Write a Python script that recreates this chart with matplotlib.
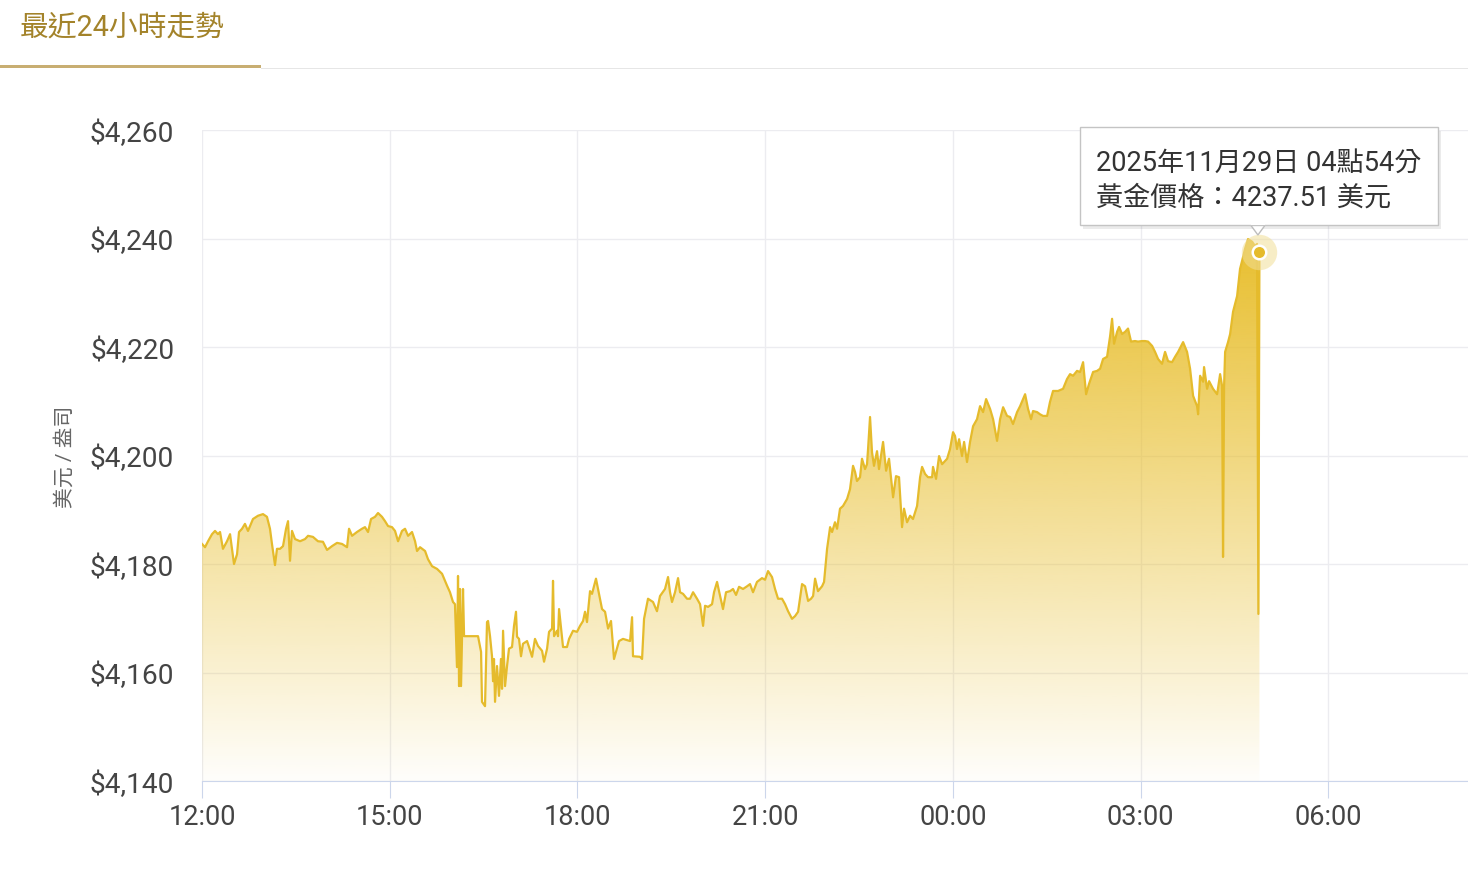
import numpy as np
import matplotlib.pyplot as plt
from matplotlib.colors import to_rgb
from matplotlib.patches import Rectangle, Polygon

plt.rcParams['font.family'] = ['Roboto', 'Noto Sans CJK TC', 'DejaVu Sans']

# minutes after 12:00 (28 Nov) and gold price in USD
minutes = [
    0.0, 2.9, 5.8, 9.6, 12.5, 15.3, 17.3, 20.1, 24.0, 26.9, 30.7, 33.6, 35.5, 38.4,
    41.2, 44.1, 48.9, 53.7, 58.5, 62.3, 65.2, 67.1, 70.0, 71.9, 74.8, 77.7, 80.6,
    82.5, 84.4, 86.3, 89.2, 94.0, 98.8, 101.7, 106.4, 111.2, 116.0, 119.9, 124.7,
    129.5, 134.3, 139.1, 141.0, 143.9, 148.6, 153.4, 156.3, 159.2, 162.1, 165.9,
    168.8, 172.6, 175.5, 178.4, 182.2, 185.1, 188.0, 191.8, 194.7, 197.6, 201.4,
    204.3, 206.2, 209.1, 213.9, 216.7, 220.6, 225.4, 230.2, 235.0, 237.8, 240.7,
    242.6, 244.5, 245.5, 246.5, 247.4, 248.4, 250.3, 251.3, 264.7, 267.6, 268.5,
    271.4, 273.3, 274.3, 276.2, 278.1, 279.1, 280.0, 281.0, 282.9, 284.8, 286.7,
    287.7, 288.7, 290.6, 292.5, 294.4, 297.3, 299.2, 301.1, 302.1, 304.0, 305.9,
    307.8, 311.7, 313.6, 316.5, 319.3, 322.2, 326.1, 328.0, 330.9, 332.8, 335.7,
    336.6, 337.6, 340.4, 341.4, 342.4, 345.2, 346.2, 350.0, 352.0, 355.8, 359.6,
    362.5, 365.4, 367.3, 369.2, 372.1, 374.0, 377.8, 379.8, 383.6, 386.5, 389.4,
    392.2, 395.1, 399.9, 403.7, 410.5, 412.4, 413.3, 420.0, 422.0, 423.9, 427.7,
    432.5, 436.3, 439.2, 444.0, 446.9, 448.8, 450.7, 453.6, 456.5, 458.4, 461.3,
    465.1, 468.0, 470.9, 474.7, 477.6, 480.5, 482.4, 485.3, 489.1, 491.0, 493.9,
    495.8, 499.6, 502.5, 506.4, 509.2, 512.1, 515.0, 518.8, 522.7, 525.5, 528.4,
    532.2, 537.0, 539.9, 542.8, 546.6, 549.5, 552.4, 556.2, 559.1, 562.0, 565.8,
    568.7, 571.6, 575.4, 578.3, 581.2, 584.0, 586.0, 587.9, 590.7, 594.6, 596.5,
    599.4, 602.3, 604.2, 607.0, 609.0, 611.8, 614.7, 618.6, 621.4, 624.3, 626.2,
    628.1, 631.0, 632.9, 635.8, 637.7, 638.7, 640.6, 642.5, 644.4, 647.3, 649.2,
    653.1, 656.0, 658.8, 662.7, 665.5, 668.4, 671.3, 673.2, 676.1, 679.0, 681.8,
    685.7, 688.6, 690.5, 693.4, 696.2, 700.1, 701.0, 703.9, 706.8, 709.7, 714.5,
    717.3, 720.2, 722.1, 724.0, 726.0, 728.8, 730.8, 733.6, 736.5, 739.4, 743.2,
    746.1, 749.0, 751.9, 755.7, 758.6, 762.4, 765.3, 768.2, 772.0, 774.9, 777.7,
    781.6, 784.5, 789.3, 792.1, 795.0, 796.9, 800.8, 803.6, 806.5, 810.4, 813.2,
    816.1, 820.9, 825.7, 829.5, 832.4, 835.3, 839.1, 842.0, 844.9, 847.8, 850.6,
    854.5, 858.3, 861.2, 864.1, 867.9, 870.8, 872.7, 874.6, 877.5, 879.4, 882.3,
    885.2, 888.0, 890.9, 894.7, 897.6, 901.5, 904.3, 907.2, 911.1, 913.9, 916.8,
    920.6, 923.5, 926.4, 930.2, 933.1, 936.0, 940.8, 944.6, 947.5, 950.4, 954.2,
    955.2, 957.1, 960.0, 960.9, 963.8, 965.7, 969.5, 973.4, 976.3, 978.2, 979.1,
    980.1, 981.1, 983.9, 985.9, 988.7, 992.6, 995.4, 997.4, 1000.2, 1003.1, 1007.0,
    1009.8, 1011.7, 1013.0, 1014.0,
]
prices = [
    4183.7, 4183.1, 4184.2, 4185.5, 4186.1, 4185.5, 4185.9, 4182.8, 4184.2, 4185.5,
    4180.0, 4181.8, 4185.9, 4186.5, 4187.4, 4186.1, 4188.3, 4188.9, 4189.2, 4188.7,
    4186.5, 4183.7, 4179.8, 4182.8, 4182.8, 4183.3, 4186.5, 4187.9, 4180.6, 4186.1,
    4184.6, 4184.2, 4184.6, 4185.2, 4185.0, 4184.2, 4184.1, 4182.6, 4183.3, 4183.9,
    4183.7, 4183.1, 4186.5, 4185.2, 4185.9, 4186.5, 4186.8, 4185.9, 4188.3, 4188.7,
    4189.4, 4188.7, 4187.9, 4187.0, 4186.8, 4186.1, 4184.2, 4186.1, 4186.5, 4185.2,
    4185.9, 4184.2, 4182.4, 4183.1, 4182.4, 4180.9, 4179.6, 4179.1, 4178.2, 4176.0,
    4174.8, 4173.0, 4172.6, 4161.0, 4177.8, 4157.5, 4175.4, 4157.5, 4175.4, 4166.7,
    4166.7, 4163.8, 4154.6, 4153.8, 4169.3, 4169.5, 4166.7, 4163.0, 4158.4, 4162.5,
    4154.6, 4161.2, 4155.7, 4162.5, 4157.0, 4167.7, 4157.5, 4161.2, 4164.4, 4164.7,
    4168.6, 4171.2, 4166.6, 4166.2, 4163.0, 4165.3, 4165.8, 4164.7, 4162.9, 4166.2,
    4164.9, 4164.0, 4162.0, 4164.4, 4167.5, 4168.1, 4176.9, 4166.7, 4167.7, 4166.7,
    4171.7, 4166.6, 4164.7, 4164.7, 4166.2, 4167.7, 4167.5, 4168.6, 4169.5, 4171.2,
    4169.3, 4175.0, 4174.5, 4177.3, 4175.4, 4171.7, 4171.2, 4168.1, 4169.5, 4162.5,
    4165.8, 4166.2, 4165.8, 4170.2, 4163.0, 4162.9, 4162.5, 4169.9, 4173.6, 4173.0,
    4171.3, 4174.1, 4175.4, 4177.6, 4174.8, 4173.0, 4174.8, 4177.4, 4174.8, 4174.5,
    4173.6, 4173.6, 4174.8, 4173.6, 4172.6, 4168.6, 4172.3, 4172.1, 4172.6, 4174.8,
    4176.7, 4175.0, 4171.7, 4174.8, 4175.0, 4175.4, 4174.3, 4175.8, 4175.4, 4175.9,
    4176.3, 4174.8, 4176.7, 4177.4, 4177.1, 4178.7, 4177.6, 4175.4, 4173.6, 4173.6,
    4172.6, 4171.3, 4169.9, 4170.4, 4171.2, 4176.3, 4175.9, 4173.2, 4173.6, 4174.1,
    4177.3, 4175.0, 4175.9, 4176.7, 4182.8, 4186.8, 4185.9, 4187.7, 4186.5, 4190.2,
    4190.7, 4192.0, 4193.8, 4198.1, 4197.0, 4195.3, 4196.0, 4199.4, 4197.5, 4198.4,
    4201.2, 4207.1, 4200.6, 4198.1, 4200.8, 4197.5, 4202.5, 4197.2, 4199.4, 4192.3,
    4196.2, 4196.0, 4186.8, 4190.2, 4187.7, 4188.9, 4188.3, 4190.7, 4196.0, 4197.9,
    4196.6, 4196.0, 4196.0, 4197.9, 4195.7, 4199.9, 4198.4, 4199.4, 4201.2, 4204.3,
    4203.6, 4201.2, 4203.0, 4199.9, 4202.5, 4198.8, 4202.5, 4205.4, 4206.7, 4209.1,
    4208.0, 4210.4, 4208.6, 4206.7, 4202.7, 4206.7, 4208.9, 4207.3, 4207.1, 4205.8,
    4208.0, 4209.1, 4211.3, 4208.6, 4206.7, 4208.2, 4208.0, 4207.6, 4207.3, 4207.3,
    4209.9, 4211.9, 4211.9, 4212.3, 4214.1, 4215.0, 4214.7, 4215.6, 4215.4, 4217.2,
    4211.3, 4213.2, 4215.4, 4215.6, 4216.0, 4217.8, 4218.2, 4222.0, 4225.2, 4220.6,
    4222.8, 4223.7, 4222.4, 4222.8, 4223.4, 4221.0, 4221.1, 4221.0, 4221.1, 4221.1,
    4221.0, 4220.2, 4219.1, 4217.8, 4216.9, 4219.1, 4217.4, 4217.2, 4218.2, 4219.1,
    4220.9, 4219.1, 4216.0, 4211.0, 4209.1, 4207.6, 4214.7, 4213.6, 4216.3, 4212.3,
    4213.7, 4212.3, 4211.3, 4215.0, 4212.8, 4181.3, 4212.8, 4219.1, 4220.9, 4222.4,
    4226.5, 4229.4, 4234.4, 4235.9, 4238.1, 4239.9, 4239.4, 4238.6, 4239.0, 4170.8,
    4237.51,
]

tick_minutes = [0, 180, 360, 540, 720, 900, 1080]
tick_labels = ['12:00', '15:00', '18:00', '21:00', '00:00', '03:00', '06:00']
y_ticks = [4140, 4160, 4180, 4200, 4220, 4240, 4260]

x = np.array(minutes)
y = np.array(prices)
x_max = 1214
y_min, y_max = 4140, 4260

gold = '#e5bb2c'
fig = plt.figure(figsize=(14.68, 8.78), dpi=100)
ax = fig.add_axes([0.1376, 0.1093, 0.8624, 0.7415])

# gradient fill under the line, spanning the area's own height
r, g, b = to_rgb('#e8be2c')
grad = np.zeros((256, 1, 4))
t = np.linspace(0, 1, 256)[:, None]
grad[..., 0] = r
grad[..., 1] = g
grad[..., 2] = b
grad[..., 3] = 0.97 * (1 - t) + 0.02
poly = ax.fill_between(x, y, y_min, color='none', lw=0)
im = ax.imshow(grad, aspect='auto', extent=[0, x_max, y_min, y.max()],
               origin='upper', zorder=2)
im.set_clip_path(poly.get_paths()[0], transform=ax.transData)

ax.plot(x, y, color=gold, lw=1.6, zorder=3)

# hover marker
ax.scatter([x[-1]], [y[-1]], s=650, color='#f1df98', alpha=0.55, lw=0, zorder=4)
ax.scatter([x[-1]], [y[-1]], s=95, facecolor=gold, edgecolor='white', lw=1.8, zorder=5)

ax.set_xlim(0, x_max)
ax.set_ylim(y_min, y_max)
ax.set_xticks(tick_minutes, tick_labels)
ax.set_yticks(y_ticks, ['$' + format(v, ',') for v in y_ticks])
ax.grid(True, color='#ececf0', lw=1)
ax.set_axisbelow(True)
for s in ['top', 'right', 'left']:
    ax.spines[s].set_visible(False)
ax.spines['bottom'].set_color('#ccd6eb')
ax.tick_params(axis='x', length=12, color='#ccd6eb', pad=4, labelsize=19.5, labelcolor='#444444')
ax.tick_params(axis='y', length=0, pad=20, labelsize=20.2, labelcolor='#444444')
ax.set_ylabel('美元 / 盎司', fontsize=15, color='#666666')
ax.yaxis.set_label_coords(-0.1007, 0.5)

# header
fig.text(0.0136, 0.969, '最近24小時走勢', fontsize=20.7, color='#a3832a', va='center')
fig.add_artist(Rectangle((0, 0.921), 0.1775, 0.004, color='#c8ae72', transform=fig.transFigure, lw=0))
fig.add_artist(Rectangle((0.1775, 0.920), 0.8225, 0.0012, color='#e6e6e6', transform=fig.transFigure, lw=0))

# tooltip
bx0, bx1, by0, by1 = 0.7357, 0.9796, 0.7426, 0.8542
fig.add_artist(Rectangle((bx0 + 0.002, by0 - 0.004), bx1 - bx0, by1 - by0, color='#000000', alpha=0.08,
                         transform=fig.transFigure, lw=0))
fig.add_artist(Polygon([[0.8515, by0 + 0.001], [0.8569, 0.7312], [0.8623, by0 + 0.001]], closed=True,
                       facecolor='white', edgecolor='#bdbdbd', lw=1, transform=fig.transFigure, zorder=6))
fig.add_artist(Rectangle((bx0, by0), bx1 - bx0, by1 - by0, facecolor='white', edgecolor='#c4c4c4', lw=1,
                         transform=fig.transFigure, zorder=6))
fig.add_artist(Rectangle((0.8522, by0 - 0.0005), 0.0094, 0.003, facecolor='white', lw=0,
                         transform=fig.transFigure, zorder=7))
fig.text(0.7466, 0.8145, '2025年11月29日 04點54分', fontsize=19.5, color='#333333', va='center', zorder=8)
fig.text(0.7466, 0.7745, '黃金價格：4237.51 美元', fontsize=19.5, color='#333333', va='center', zorder=8)

fig.savefig('out.png', dpi=100)
